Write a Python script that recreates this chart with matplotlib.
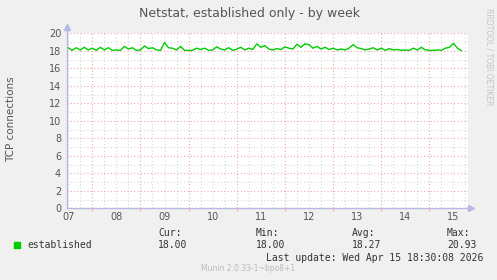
import matplotlib
matplotlib.use("Agg")
import matplotlib.pyplot as plt
import numpy as np

W, H = 497, 280

# ---- data ----
title = "Netstat, established only - by week"
ylabel = "TCP connections"
series_name = "established"
day_labels = ["07", "08", "09", "10", "11", "12", "13", "14", "15"]
# hours since Apr 07 00:00, one sample every 2 hours
hours = list(range(12, 210, 2))
values = [18.35, 18.05, 18.35, 18.1, 18.4, 18.1, 18.3, 18.05, 18.4, 18.1,
          18.35, 18.05, 18.1, 18.05, 18.5, 18.2, 18.35, 18.05, 18.1, 18.55,
          18.25, 18.35, 18.1, 18.05, 18.95, 18.35, 18.3, 18.1, 18.5, 18.05,
          18.05, 18.05, 18.3, 18.15, 18.3, 18.05, 18.1, 18.45, 18.2, 18.1,
          18.35, 18.05, 18.2, 18.4, 18.1, 18.3, 18.15, 18.8, 18.4, 18.6,
          18.2, 18.1, 18.25, 18.15, 18.45, 18.3, 18.2, 18.75, 18.4, 18.8,
          18.7, 18.3, 18.5, 18.2, 18.4, 18.15, 18.3, 18.1, 18.2, 18.1,
          18.3, 18.7, 18.35, 18.25, 18.1, 18.2, 18.35, 18.1, 18.3, 18.05,
          18.25, 18.1, 18.15, 18.05, 18.1, 18.05, 18.3, 18.1, 18.4, 18.1,
          18.05, 18.05, 18.1, 18.05, 18.3, 18.4, 18.85, 18.3, 18.0]
stat_labels = ["Cur:", "Min:", "Avg:", "Max:"]
stat_values = ["18.00", "18.00", "18.27", "20.93"]
last_update = "Last update: Wed Apr 15 18:30:08 2026"
credit = "Munin 2.0.33-1~bpo8+1"
side_text = "RRDTOOL / TOBI OETIKER"

x_start, x_end = 11.25, 211.25
y_min, y_max = 0, 20

# ---- figure ----
BG = "#F0F0F0"
fig = plt.figure(figsize=(W / 100, H / 100), dpi=100, facecolor=BG)

def fx(px):
    return px / W

def fy(py):
    return 1 - py / H

L, R, T, B = 66.7, 468.0, 33.3, 208.3
ax = fig.add_axes([fx(L), fy(B), fx(R) - fx(L), fy(T) - fy(B)])
ax.set_facecolor("white")
ax.set_xlim(x_start, x_end)
ax.set_ylim(y_min, y_max)
for s in ax.spines.values():
    s.set_visible(False)

MINOR = "#D8D8D8"
MAJOR = "#F2A8A8"
dots = (0, (1, 2))

# minor grid
for h in np.arange(0, 240, 6):
    if x_start < h < x_end and h % 24 != 0:
        ax.axvline(h, color=MINOR, lw=0.8, ls=dots, zorder=1)
for v in range(1, 20, 2):
    ax.axhline(v, color=MINOR, lw=0.8, ls=dots, zorder=1)
# major grid
for h in range(24, 240, 24):
    if x_start < h < x_end:
        ax.axvline(h, color=MAJOR, lw=0.8, ls=dots, zorder=2)
for v in range(2, 21, 2):
    ax.axhline(v, color=MAJOR, lw=0.8, ls=dots, zorder=2)

ax.plot(hours, values, color="#00CC00", lw=1.0, zorder=5, solid_joinstyle="miter")

# ticks
ax.set_yticks(range(0, 21, 2))
ax.set_yticklabels([str(v) for v in range(0, 21, 2)])
ax.set_xticks([12 + 24 * i for i in range(len(day_labels))])
ax.set_xticklabels(day_labels)
ax.tick_params(axis="both", length=0, labelsize=7, labelcolor="#555555", pad=3)
ax.tick_params(axis="y", pad=4)

# axes lines with arrows
AXC = "#B8B8E8"
ax.plot([0, 0], [0, 1.035], transform=ax.transAxes, color=AXC, lw=1, clip_on=False, zorder=6)
ax.plot([0, 1.008], [0, 0], transform=ax.transAxes, color=AXC, lw=1, clip_on=False, zorder=6)
ax.plot([0], [1.035], transform=ax.transAxes, marker="^", ms=4, color=AXC, clip_on=False, zorder=6)
ax.plot([1.008], [0], transform=ax.transAxes, marker=">", ms=4, color=AXC, clip_on=False, zorder=6)
# small tick marks at midnights below axis
for h in range(24, 240, 24):
    if x_start < h < x_end:
        ax.plot([h, h], [0, -0.25], color=MAJOR, lw=0.8, clip_on=False, zorder=6)

# texts
TXT = "#555555"
fig.text(fx(250), fy(13), title, ha="center", va="center", fontsize=9, color=TXT)
fig.text(fx(11), fy(119), ylabel, ha="center", va="center", rotation=90, fontsize=7.5, color=TXT)
fig.text(fx(488.5), fy(57), side_text, ha="center", va="center", rotation=270,
         fontsize=5.5, color="#C4C4C4")

mono = "DejaVu Sans Mono"
fig.patches.append(plt.Rectangle((fx(14), fy(248)), fx(6), fy(242) - fy(248),
                                 transform=fig.transFigure, color="#00CC00", figure=fig))
fig.text(fx(27), fy(245.5), series_name, ha="left", va="center", fontsize=7,
         family=mono, color="#333333")
stat_x = [158, 256, 352, 447]
for xpx, lab, val in zip(stat_x, stat_labels, stat_values):
    fig.text(fx(xpx), fy(233.5), lab, ha="left", va="center", fontsize=7, family=mono, color="#333333")
    fig.text(fx(xpx), fy(245.5), val, ha="left", va="center", fontsize=7, family=mono, color="#333333")
fig.text(fx(483), fy(258), last_update, ha="right", va="center", fontsize=7, family=mono, color="#333333")
fig.text(fx(248), fy(268.5), credit, ha="center", va="center", fontsize=5.5, color="#BBBBBB")

fig.savefig("out.png", dpi=100, facecolor=BG)
